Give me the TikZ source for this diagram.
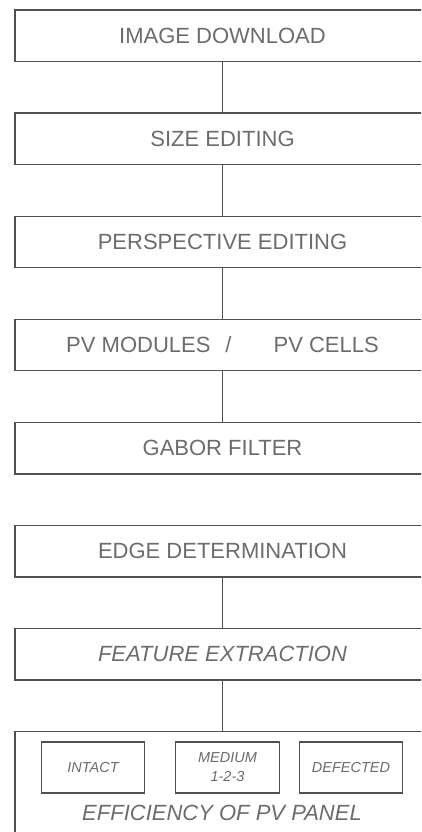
\documentclass[tikz,border=0pt]{standalone}
\usepackage{fontspec}
\setmainfont{Liberation Sans}
\usetikzlibrary{positioning}
\definecolor{boxgray}{RGB}{80,80,80}
\definecolor{textgray}{RGB}{108,108,108}

\begin{document}
\begin{tikzpicture}[
    x=1pt, y=-1pt,
    box/.style={rectangle, draw=boxgray, line width=1.3pt, outer sep=0pt, minimum width=415pt, minimum height=51.5pt, inner sep=0pt, text=textgray, font=\fontsize{22}{26}\selectfont},
    smallbox/.style={rectangle, draw=boxgray, line width=1.3pt, minimum width=103.5pt, minimum height=51pt, inner sep=0pt, align=center, text=textgray, font=\fontsize{14.5}{19}\selectfont\itshape},
    link/.style={draw=boxgray, line width=1pt}
]
    \useasboundingbox (0,0) rectangle (421,832);
    \clip (0,0) rectangle (421,832);

    \node[box] (download) at (222.5,35.75) {IMAGE DOWNLOAD};
    \node[box, below=51.6pt of download] (size) {SIZE EDITING};
    \node[box, below=51.6pt of size] (persp) {PERSPECTIVE EDITING};
    \node[box, below=51.6pt of persp] (pv) {PV MODULES\hspace{15pt}/\hspace{42pt}PV CELLS};
    \node[box, below=51.6pt of pv] (gabor) {GABOR FILTER};
    \node[box, below=51.6pt of gabor] (edge) {EDGE DETERMINATION};
    \node[box, below=51.6pt of edge, font=\fontsize{22}{26}\selectfont\itshape] (feature) {FEATURE EXTRACTION};
    \node[box, below=51.6pt of feature, minimum height=140pt] (panel) {};

    \node[smallbox] (intact) at (93,767.5) {INTACT};
    \node[smallbox] (medium) at (227.5,767.5) {MEDIUM\\1-2-3};
    \node[smallbox] (defect) at (351,767.5) {DEFECTED};
    \node[text=textgray, font=\fontsize{22}{26}\selectfont\itshape, inner sep=0pt] (eff) at (222,813) {EFFICIENCY OF PV PANEL};

    \draw[link] (download) -- (size);
    \draw[link] (size) -- (persp);
    \draw[link] (persp) -- (pv);
    \draw[link] (pv) -- (gabor);
    \draw[link] (edge) -- (feature);
    \draw[link] (feature) -- (panel);
\end{tikzpicture}
\end{document}
